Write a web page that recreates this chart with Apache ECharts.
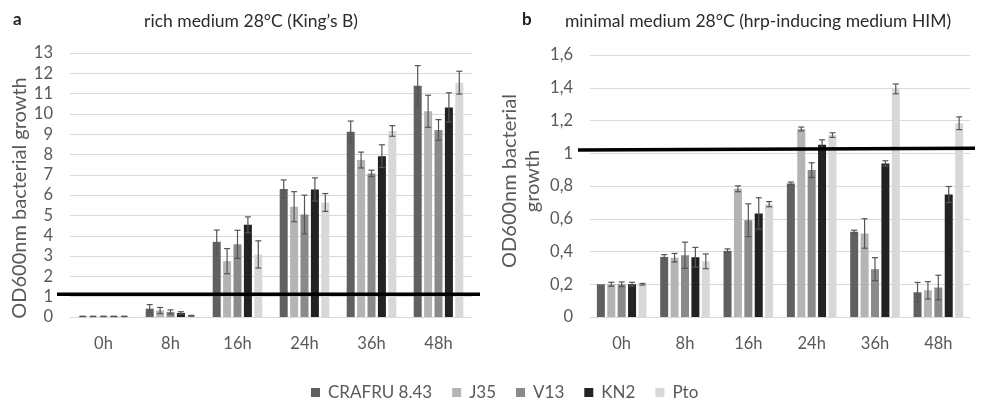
<!DOCTYPE html>
<html>
<head>
<meta charset="utf-8">
<script src="https://cdn.jsdelivr.net/npm/echarts@6/dist/echarts.min.js"></script>
<style>
  html, body { margin: 0; padding: 0; background: #ffffff; }
  #chart { width: 982px; height: 412px; }
</style>
</head>
<body>
<div id="chart"></div>
<script>
// Sampling times
const categories = ['0h', '8h', '16h', '24h', '36h', '48h'];
const strains = ['CRAFRU 8.43', 'J35', 'V13', 'KN2', 'Pto'];

// a: rich medium (King's B), OD600 means and standard errors
const crafruA = [0.03, 0.41, 3.70, 6.30, 9.12, 11.39];
const j35A    = [0.03, 0.32, 2.75, 5.43, 7.73, 10.13];
const v13A    = [0.03, 0.25, 3.58, 5.05, 7.07, 9.21];
const kn2A    = [0.03, 0.20, 4.54, 6.28, 7.92, 10.32];
const ptoA    = [0.03, 0.06, 3.08, 5.64, 9.16, 11.54];
const crafruAErr = [0.01, 0.20, 0.58, 0.45, 0.53, 0.99];
const j35AErr    = [0.01, 0.15, 0.62, 0.74, 0.39, 0.79];
const v13AErr    = [0.01, 0.10, 0.69, 0.95, 0.16, 0.51];
const kn2AErr    = [0.01, 0.06, 0.39, 0.57, 0.56, 0.72];
const ptoAErr    = [0.01, 0.02, 0.67, 0.44, 0.26, 0.56];

// b: minimal medium (HIM), OD600 means and standard errors
const crafruB = [0.200, 0.367, 0.404, 0.816, 0.520, 0.151];
const j35B    = [0.200, 0.362, 0.783, 1.148, 0.510, 0.163];
const v13B    = [0.200, 0.377, 0.591, 0.897, 0.292, 0.180];
const kn2B    = [0.200, 0.365, 0.632, 1.052, 0.938, 0.748];
const ptoB    = [0.200, 0.340, 0.689, 1.111, 1.393, 1.183];
const crafruBErr = [0.000, 0.014, 0.012, 0.008, 0.010, 0.060];
const j35BErr    = [0.012, 0.026, 0.018, 0.012, 0.090, 0.053];
const v13BErr    = [0.014, 0.080, 0.100, 0.045, 0.070, 0.075];
const kn2BErr    = [0.012, 0.060, 0.096, 0.030, 0.016, 0.049];
const ptoBErr    = [0.005, 0.045, 0.016, 0.014, 0.030, 0.039];

// Reference threshold lines (start, end values)
const thresholdA = [1.12, 1.12];
const thresholdB = [1.02, 1.03];

// Y axis tick setup
const yMaxA = 13, yStepA = 1;
const yMaxB = 1.6, yStepB = 0.2;

const colors = ['#606060', '#b4b4b4', '#8a8a8a', '#222222', '#d8d8d8'];
const FONT = 'Lato, "Open Sans", sans-serif';
const TEXT = '#595959';
const BAR_W = 8;
const BAR_GAP = 0.3;

const meansA = [crafruA, j35A, v13A, kn2A, ptoA];
const errsA = [crafruAErr, j35AErr, v13AErr, kn2AErr, ptoAErr];
const meansB = [crafruB, j35B, v13B, kn2B, ptoB];
const errsB = [crafruBErr, j35BErr, v13BErr, kn2BErr, ptoBErr];

function errorSeries(axisIdx, means, errs) {
  const data = [];
  means.forEach((arr, s) => arr.forEach((v, c) => {
    if (errs[s][c] > 0) data.push([c, v, errs[s][c], s]);
  }));
  return {
    type: 'custom',
    xAxisIndex: axisIdx, yAxisIndex: axisIdx,
    silent: true, z: 5,
    encode: { x: 0, y: 1 },
    data: data,
    renderItem: function (params, api) {
      const c = api.value(0), v = api.value(1), e = api.value(2), s = api.value(3);
      const step = BAR_W * (1 + BAR_GAP);
      const off = (s - (strains.length - 1) / 2) * step;
      const hi = api.coord([c, v + e]);
      const lo = api.coord([c, Math.max(0, v - e)]);
      const x = hi[0] + off;
      const cap = 3;
      const style = { stroke: '#555555', lineWidth: 1.2 };
      return {
        type: 'group',
        children: [
          { type: 'line', shape: { x1: x, y1: hi[1], x2: x, y2: lo[1] }, style: style },
          { type: 'line', shape: { x1: x - cap, y1: hi[1], x2: x + cap, y2: hi[1] }, style: style },
          { type: 'line', shape: { x1: x - cap, y1: lo[1], x2: x + cap, y2: lo[1] }, style: style }
        ]
      };
    }
  };
}

function barSeries(axisIdx, means) {
  return means.map((arr, s) => ({
    name: strains[s],
    type: 'bar',
    xAxisIndex: axisIdx, yAxisIndex: axisIdx,
    barWidth: BAR_W,
    barGap: (BAR_GAP * 100) + '%',
    itemStyle: { color: colors[s] },
    data: arr
  }));
}

const catAxis = (gridIndex) => ({
  type: 'category', gridIndex: gridIndex, data: categories,
  axisLine: { lineStyle: { color: '#d9d9d9' } },
  axisTick: { show: false },
  axisLabel: { color: TEXT, fontFamily: FONT, fontSize: 16.5, margin: 18 }
});

const valAxis = (gridIndex, max, step, fmt) => ({
  type: 'value', gridIndex: gridIndex, min: 0, max: max, interval: step,
  axisLine: { show: false }, axisTick: { show: false },
  splitLine: { lineStyle: { color: '#d9d9d9', width: 1 } },
  axisLabel: { color: TEXT, fontFamily: FONT, fontSize: 16.5, margin: 17, formatter: fmt }
});

const hiddenX = (gridIndex) => ({ type: 'value', gridIndex: gridIndex, min: 0, max: 1, show: false });
const hiddenY = (gridIndex, max) => ({ type: 'value', gridIndex: gridIndex, min: 0, max: max, show: false });

function threshold(axisIdx, vals) {
  return {
    type: 'line', xAxisIndex: axisIdx, yAxisIndex: axisIdx,
    silent: true, symbol: 'none', z: 10,
    lineStyle: { color: '#000000', width: 3.5 },
    data: [[0, vals[0]], [1, vals[1]]]
  };
}

const commaFmt = (v) => {
  const r = Math.round(v * 10) / 10;
  return String(r).replace('.', ',');
};

const chart = echarts.init(document.getElementById('chart'), null, { renderer: 'canvas' });
chart.setOption({
  animation: false,
  backgroundColor: '#ffffff',
  grid: [
    { left: 70, top: 53, width: 402, height: 264 },
    { left: 590, top: 55, width: 380, height: 262 },
    { left: 57, top: 53, width: 423, height: 264 },
    { left: 578, top: 55, width: 397, height: 262 }
  ],
  xAxis: [catAxis(0), catAxis(1), hiddenX(2), hiddenX(3)],
  yAxis: [
    valAxis(0, yMaxA, yStepA, (v) => String(Math.round(v))),
    valAxis(1, yMaxB, yStepB, commaFmt),
    hiddenY(2, yMaxA),
    hiddenY(3, yMaxB)
  ],
  legend: {
    data: strains,
    bottom: 6, left: 306,
    itemWidth: 9, itemHeight: 9, itemGap: 20,
    icon: 'rect',
    textStyle: { color: TEXT, fontFamily: FONT, fontSize: 17, padding: [0, 0, 0, 3] }
  },
  graphic: [
    { type: 'text', left: 13, top: 11, style: { text: 'a', font: 'bold 17px ' + FONT, fill: '#222' } },
    { type: 'text', x: 251, y: 21, style: { text: 'rich medium 28°C (King’s B)', font: '17.5px ' + FONT, fill: '#2b2b2b', textAlign: 'center', textVerticalAlign: 'middle' } },
    { type: 'text', left: 522, top: 11, style: { text: 'b', font: 'bold 17px ' + FONT, fill: '#222' } },
    { type: 'text', x: 758, y: 21, style: { text: 'minimal medium 28°C (hrp-inducing medium HIM)', font: '17.5px ' + FONT, fill: '#2b2b2b', textAlign: 'center', textVerticalAlign: 'middle' } },
    { type: 'text', x: 20, y: 198, rotation: Math.PI / 2, style: { text: 'OD600nm bacterial growth', font: '20px ' + FONT, fill: TEXT, textAlign: 'center', textVerticalAlign: 'middle' } },
    { type: 'text', x: 521, y: 181, rotation: Math.PI / 2, style: { text: 'OD600nm bacterial\ngrowth', font: '20px ' + FONT, fill: TEXT, textAlign: 'center', textVerticalAlign: 'middle', lineHeight: 23 } }
  ],
  series: [
    ...barSeries(0, meansA),
    errorSeries(0, meansA, errsA),
    ...barSeries(1, meansB),
    errorSeries(1, meansB, errsB),
    threshold(2, thresholdA),
    threshold(3, thresholdB)
  ]
});
</script>
</body>
</html>
